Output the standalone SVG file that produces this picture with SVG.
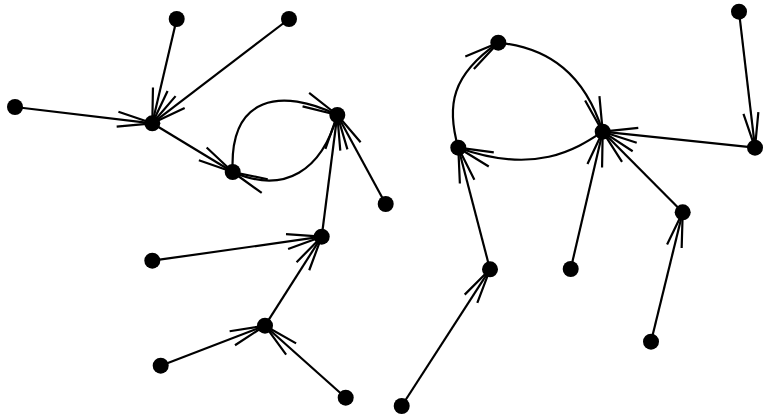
<svg xmlns="http://www.w3.org/2000/svg" width="764" height="417" viewBox="0 0 764 417">
<style>
.e{fill:none;stroke:#000;stroke-width:2.2;marker-end:url(#arr)}
.n circle{fill:#000}
</style>
<defs>
<marker id="arr" markerUnits="userSpaceOnUse" markerWidth="80" markerHeight="80" refX="0" refY="0" orient="auto" overflow="visible">
<path d="M-35,-7.5 L0,0 L-35,7.5" fill="none" stroke="#000" stroke-width="2.2"/>
</marker>
</defs>
<rect width="764" height="417" fill="#fff"/>
<g id="edges">
<path class="e" d="M176.7,19 L152.3,123.3"/>
<path class="e" d="M289,19 L152.3,123.3"/>
<path class="e" d="M15,107 L152.3,123.3"/>
<path class="e" d="M152.3,123.3 L232.7,172"/>
<path class="e" d="M232.7,172 C229,95 282,88 337.3,115"/>
<path class="e" d="M337.3,115 C322,170 285,195 232.7,172"/>
<path class="e" d="M385.7,204 L337.3,115"/>
<path class="e" d="M321.7,236.7 L337.3,115"/>
<path class="e" d="M152.3,260.7 L321.7,236.7"/>
<path class="e" d="M265,325.7 L321.7,236.7"/>
<path class="e" d="M160.7,365.7 L265,325.7"/>
<path class="e" d="M345.7,397.7 L265,325.7"/>
<path class="e" d="M458.3,147.7 C446,105 452,75 498.3,42.7"/>
<path class="e" d="M498.3,42.7 C550,48 585,75 602.7,131.7"/>
<path class="e" d="M602.7,131.7 C575,150 535,175 458.3,147.7"/>
<path class="e" d="M739,11.7 L755,147.7"/>
<path class="e" d="M755,147.7 L602.7,131.7"/>
<path class="e" d="M682.7,212.3 L602.7,131.7"/>
<path class="e" d="M570.7,269 L602.7,131.7"/>
<path class="e" d="M490,269.3 L458.3,147.7"/>
<path class="e" d="M651,341.7 L682.7,212.3"/>
<path class="e" d="M401.7,406 L490,269.3"/>
</g>
<g class="n" id="nA"><circle cx="176.7" cy="19" r="8"/></g>
<g class="n" id="nB"><circle cx="289" cy="19" r="8"/></g>
<g class="n" id="nC"><circle cx="15" cy="107" r="8"/></g>
<g class="n" id="nD"><circle cx="152.3" cy="123.3" r="8"/></g>
<g class="n" id="nE"><circle cx="232.7" cy="172" r="8"/></g>
<g class="n" id="nF"><circle cx="337.3" cy="115" r="8"/></g>
<g class="n" id="nG"><circle cx="385.7" cy="204" r="8"/></g>
<g class="n" id="nH"><circle cx="321.7" cy="236.7" r="8"/></g>
<g class="n" id="nI"><circle cx="152.3" cy="260.7" r="8"/></g>
<g class="n" id="nJ"><circle cx="265" cy="325.7" r="8"/></g>
<g class="n" id="nK"><circle cx="160.7" cy="365.7" r="8"/></g>
<g class="n" id="nL"><circle cx="345.7" cy="397.7" r="8"/></g>
<g class="n" id="nM"><circle cx="498.3" cy="42.7" r="8"/></g>
<g class="n" id="nN"><circle cx="458.3" cy="147.7" r="8"/></g>
<g class="n" id="nO"><circle cx="602.7" cy="131.7" r="8"/></g>
<g class="n" id="nP"><circle cx="739" cy="11.7" r="8"/></g>
<g class="n" id="nQ"><circle cx="755" cy="147.7" r="8"/></g>
<g class="n" id="nR"><circle cx="682.7" cy="212.3" r="8"/></g>
<g class="n" id="nS"><circle cx="570.7" cy="269" r="8"/></g>
<g class="n" id="nT"><circle cx="490" cy="269.3" r="8"/></g>
<g class="n" id="nU"><circle cx="651" cy="341.7" r="8"/></g>
<g class="n" id="nV"><circle cx="401.7" cy="406" r="8"/></g>
</svg>
